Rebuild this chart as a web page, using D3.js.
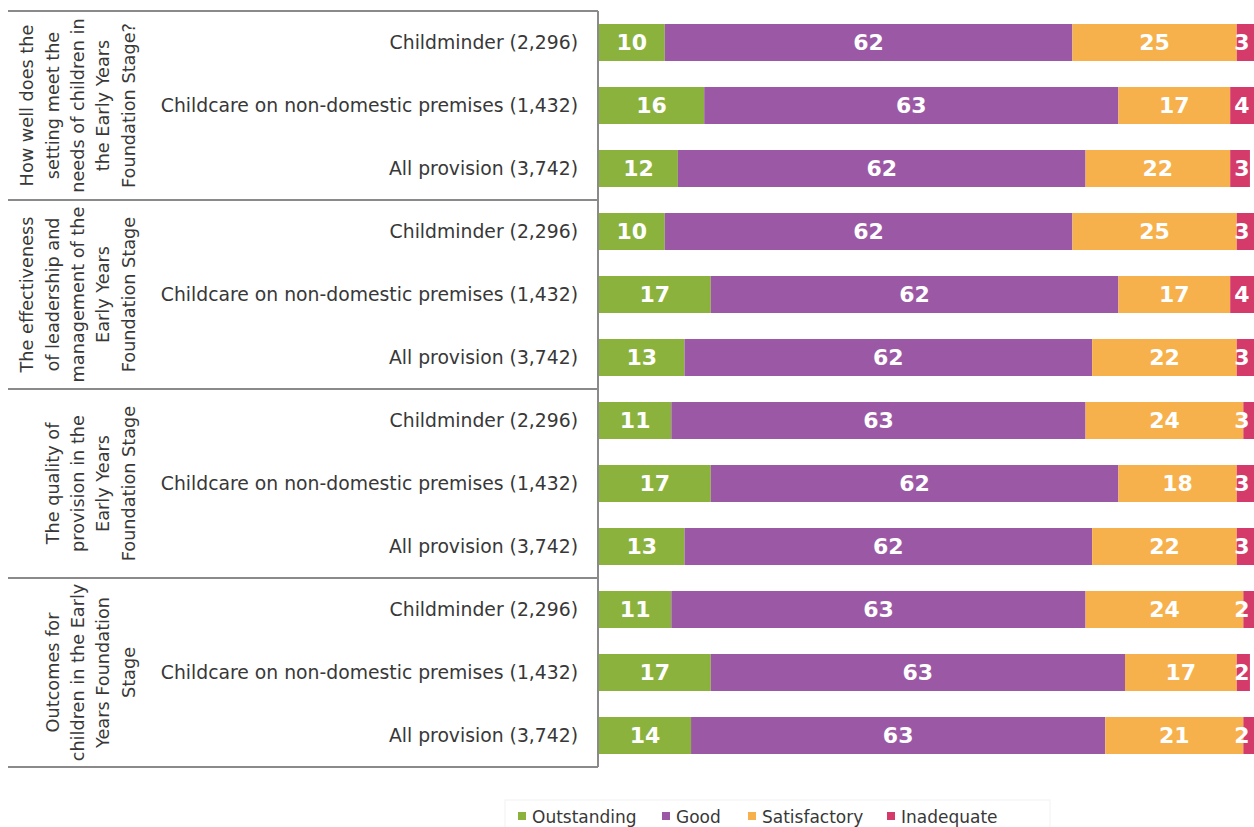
<!DOCTYPE html>
<html><head><meta charset="utf-8">
<script src="https://cdn.jsdelivr.net/npm/d3@7"></script>
<style>
html,body{margin:0;padding:0;background:#fff;}
svg{display:block;}
</style></head>
<body>
<svg id="chart" width="1254" height="827"></svg>
<script>
const groups = [
  ["How well does the", "setting meet the", "needs of children in", "the Early Years", "Foundation Stage?"],
  ["The effectiveness", "of leadership and", "management of the", "Early Years", "Foundation Stage"],
  ["The quality of", "provision in the", "Early Years", "Foundation Stage"],
  ["Outcomes for", "children in the Early", "Years Foundation", "Stage"]
];
const categories = ["Childminder (2,296)", "Childcare on non-domestic premises (1,432)", "All provision (3,742)"];
const seriesNames = ["Outstanding", "Good", "Satisfactory", "Inadequate"];
const colors = ["#8cb23e", "#9b59a5", "#f7b14c", "#d43a6a"];
const outstanding = [10, 16, 12, 10, 17, 13, 11, 17, 13, 11, 17, 14];
const good =        [62, 63, 62, 62, 62, 62, 63, 62, 62, 63, 63, 63];
const satisfactory =[25, 17, 22, 25, 17, 22, 24, 18, 22, 24, 17, 21];
const inadequate =  [3, 4, 3, 3, 4, 3, 3, 3, 3, 2, 2, 2];

(function () {
const rows = [];
groups.forEach((g, gi) => categories.forEach((c, ci) => {
  const i = gi * 3 + ci;
  rows.push({id: i, group: gi, cat: c, vals: [outstanding[i], good[i], satisfactory[i], inadequate[i]]});
}));

const svg = d3.select("#chart");
const yTop = 11, yBot = 767, xLeft = 8, divX = 598;
const y = d3.scaleBand().domain(rows.map(r => r.id)).range([yTop, yBot]).paddingInner(0.413).paddingOuter(0.2065);
const x = d3.scaleLinear().domain([0, 100]).range([599, 599 + 657.5]);
const gy = d3.scaleBand().domain(d3.range(groups.length)).range([yTop, yBot]);

// bars
const rowG = svg.append("g").selectAll("g").data(rows).join("g");
rowG.each(function(r) {
  let acc = 0;
  const segs = r.vals.map((v, k) => { const s = {k, v, x0: acc, x1: acc + v, id: r.id}; acc += v; return s; });
  const g = d3.select(this);
  g.selectAll("rect").data(segs).join("rect")
    .attr("x", d => x(d.x0)).attr("width", d => x(d.x1) - x(d.x0))
    .attr("y", y(r.id)).attr("height", y.bandwidth())
    .attr("fill", d => colors[d.k]);
  g.selectAll("text").data(segs).join("text")
    .attr("x", d => d.k === 3 ? x(100) - 14.5 : (x(d.x0) + x(d.x1)) / 2)
    .attr("y", y(r.id) + y.bandwidth() / 2)
    .attr("dy", "0.36em")
    .attr("text-anchor", "middle")
    .attr("fill", "#fff")
    .attr("font-family", "DejaVu Sans")
    .attr("font-weight", "bold")
    .attr("font-size", 22)
    .text(d => d.v);
});

// table lines
const lineCol = "#8a8a8a";
const lines = svg.append("g").attr("stroke", lineCol).attr("stroke-width", 2);
d3.range(groups.length + 1).forEach(i => {
  const yy = i < groups.length ? gy(i) : yBot;
  lines.append("line").attr("x1", xLeft).attr("x2", divX).attr("y1", yy).attr("y2", yy);
});
lines.append("line").attr("x1", divX).attr("x2", divX).attr("y1", yTop).attr("y2", yBot);

// category labels
svg.append("g").selectAll("text").data(rows).join("text")
  .attr("x", 578).attr("y", r => y(r.id) + y.bandwidth() / 2).attr("dy", "0.35em")
  .attr("text-anchor", "end")
  .attr("font-family", "DejaVu Sans").attr("font-size", 18.8).attr("fill", "#383838")
  .text(r => r.cat);

// group labels
groups.forEach((lns, gi) => {
  const cy = gy(gi) + gy.bandwidth() / 2;
  const t = svg.append("text")
    .attr("transform", `translate(0,${cy}) rotate(-90)`)
    .attr("text-anchor", "middle")
    .attr("font-family", "DejaVu Sans").attr("font-size", 17.7).attr("fill", "#383838");
  const n = lns.length;
  lns.forEach((l, li) => {
    t.append("tspan").attr("x", 0).attr("y", 128 - (n - 1 - li) * 25.3 + 6.5).text(l);
  });
});

// legend
const legX = [518, 662, 748, 887];
const leg = svg.append("g");
svg.append("rect").attr("x", 505).attr("y", 800).attr("width", 545).attr("height", 40).attr("fill", "none").attr("stroke", "#f2f2f2");
seriesNames.forEach((s, k) => {
  leg.append("rect").attr("x", legX[k]).attr("y", 812).attr("width", 8).attr("height", 8).attr("fill", colors[k]);
  leg.append("text").attr("x", legX[k] + 14).attr("y", 817).attr("dy", "0.35em")
    .attr("font-family", "DejaVu Sans").attr("font-size", 17).attr("fill", "#383838").text(s);
});
})();
</script>
</body></html>
